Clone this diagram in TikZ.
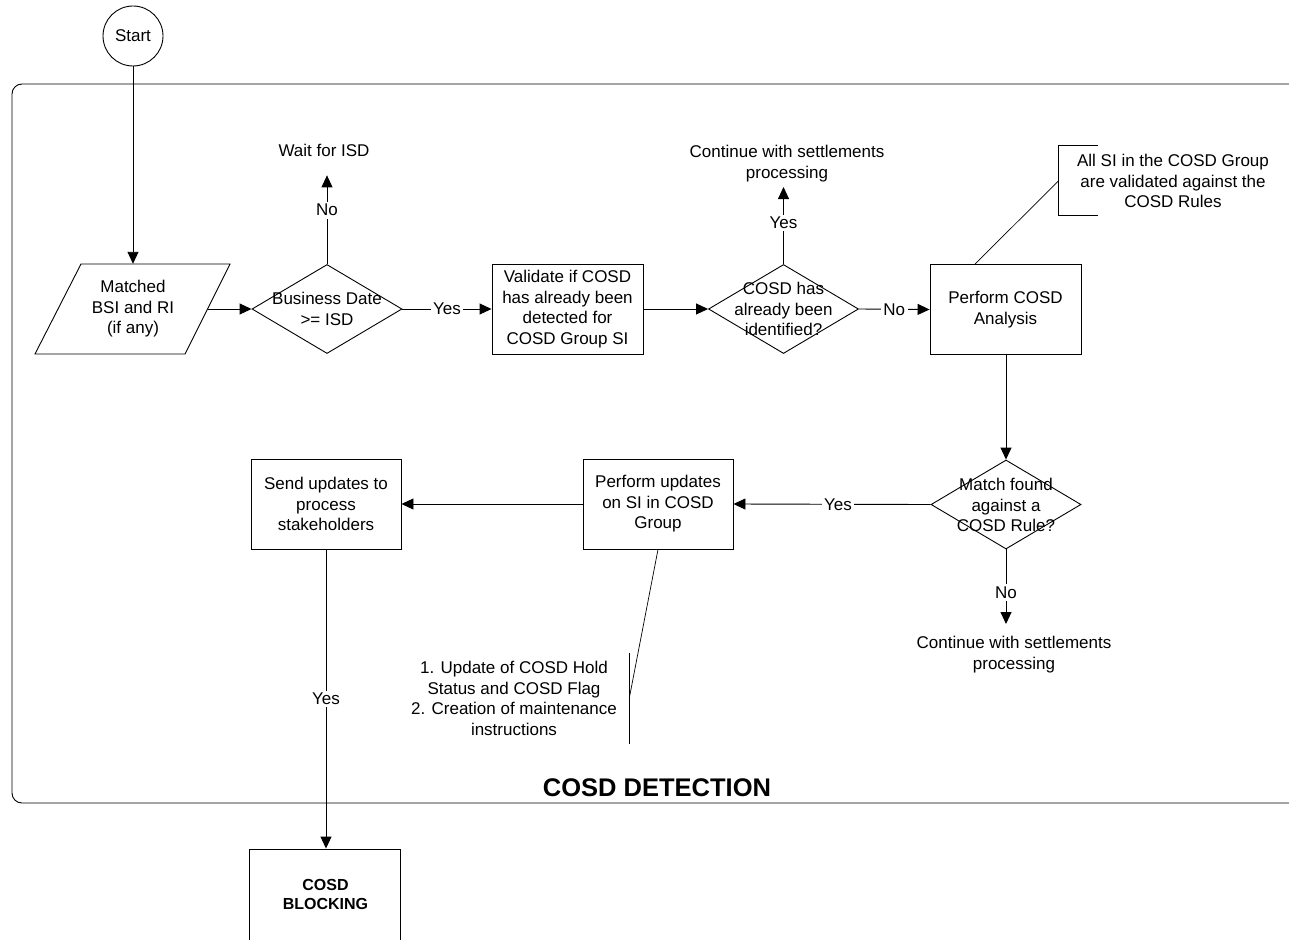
\documentclass[tikz,border=0pt]{standalone}
\usepackage{fontspec}
\setmainfont{Liberation Sans}
\usetikzlibrary{arrows.meta,shapes.geometric,calc}
\begin{document}
\begin{tikzpicture}[x=1pt,y=-1pt,
  every node/.style={font=\fontsize{17}{20.5}\selectfont},
  ln/.style={draw=black,line width=0.9pt},
  arr/.style={ln,-{Triangle[length=12pt,width=11pt]}},
  box/.style={draw,line width=0.9pt,rectangle,minimum width=151pt,minimum height=90pt,inner sep=0pt,align=center},
  dia/.style={draw,line width=0.9pt,diamond,minimum width=150pt,minimum height=89pt,inner sep=0pt},
  txt/.style={align=center,inner sep=0pt},
  lbl/.style={fill=white,inner sep=2.5pt}]
\useasboundingbox (0,0) rectangle (1289,939);

% container
\draw[line width=0.9pt,rounded corners=10pt] (1300,84) -- (12,84) -- (12,803) -- (1300,803);
\node[txt,font=\bfseries\fontsize{25.5}{29}\selectfont] (title) at (657,788) {COSD DETECTION};

% start
\node[draw,line width=0.9pt,circle,minimum size=60pt,inner sep=0pt] (start) at (133,36) {Start};

% parallelogram input
\node[minimum width=150pt,minimum height=90pt,inner sep=0pt] (para) at (133,309) {};
\draw[line width=0.9pt] (para.center) ++(-52,-45) -- ++(149,0) -- ++(-45,90) -- ++(-150,0) -- cycle;
\node[txt] at (133,309) {Matched\\BSI and RI\\(if any)};

% decision 1
\node[dia] (d1) at (327,309) {};
\node[txt] at (327,309) {Business Date\\>= ISD};
\node[txt,anchor=base] (wait) at (324,156) {Wait for ISD};

% validate
\node[box] (val) at (567.5,309) {Validate if COSD\\has already been\\detected for\\COSD Group SI};

% decision 2
\node[dia] (d2) at (783.5,309) {};
\node[txt] at (783.5,309) {COSD has\\already been\\identified?};
\node[txt,anchor=south] (cont1) at (787,182) {Continue with settlements\\processing};

% perform analysis
\node[box] (pca) at (1005.5,309.5) {Perform COSD\\Analysis};
\node[minimum width=228pt,minimum height=69pt,inner sep=0pt] (ann1) at (1173,180.5) {};
\node[txt] at (1173,181) {All SI in the COSD Group\\are validated against the\\COSD Rules};
\draw[line width=0.9pt] (ann1.north west) ++(39,0) -- (ann1.north west) -- (ann1.south west) -- ++(39,0);
\draw[line width=0.7pt] (ann1.west) -- ($(pca.north west)!0.3!(pca.north east)$);

% decision 3
\node[dia] (d3) at (1006,504.5) {};
\node[txt] at (1006,505) {Match found\\against a\\COSD Rule?};
\node[txt,anchor=north] (cont2) at (1014,636) {Continue with settlements\\processing};

% perform updates
\node[box,minimum width=150pt] (pu) at (658,504) {Perform updates\\on SI in COSD\\Group};
\node[minimum width=230pt,minimum height=91pt,inner sep=0pt] (ann2) at (514,698.5) {};
\node[txt] at (514,698.5) {1. Update of COSD Hold\\Status and COSD Flag\\2. Creation of maintenance\\instructions};
\draw[line width=0.9pt] (ann2.north east) -- (ann2.south east);
\draw[line width=0.7pt] (pu.south) -- (ann2.east);

% send updates
\node[box,minimum width=150pt] (send) at (326,504) {Send updates to\\process\\stakeholders};

% blocking
\node[draw,line width=0.9pt,rectangle,minimum width=151pt,minimum height=180pt,inner sep=0pt] (blk) at (324.5,939) {};
\node[txt,font=\bfseries\fontsize{16}{19}\selectfont] at (325.5,894) {COSD\\BLOCKING};

% connectors
\draw[arr] (start.south) -- (start.south |- para.north);
\draw[arr] (para.east) -- (d1.west);
\draw[arr,shorten >=19pt] (d1.north) -- node[lbl]{No} (d1.north |- wait.south);
\draw[arr] (d1.east) -- node[lbl]{Yes} (val.west);
\draw[arr] (val.east) -- (d2.west);
\draw[arr,shorten >=5pt] (d2.north) -- node[lbl]{Yes} (d2.north |- cont1.south);
\draw[arr] (d2.east) -- node[lbl]{No} (pca.west);
\draw[arr] (pca.south -| d3.north) -- (d3.north);
\draw[arr] (d3.west) -- node[lbl,pos=0.47]{Yes} (pu.east);
\draw[arr,shorten >=12pt] (d3.south) -- node[lbl]{No} (d3.south |- cont2.north);
\draw[arr] (pu.west) -- (send.east);
\draw[arr] (send.south) -- node[lbl]{Yes} (send.south |- blk.north);
\end{tikzpicture}
\end{document}
